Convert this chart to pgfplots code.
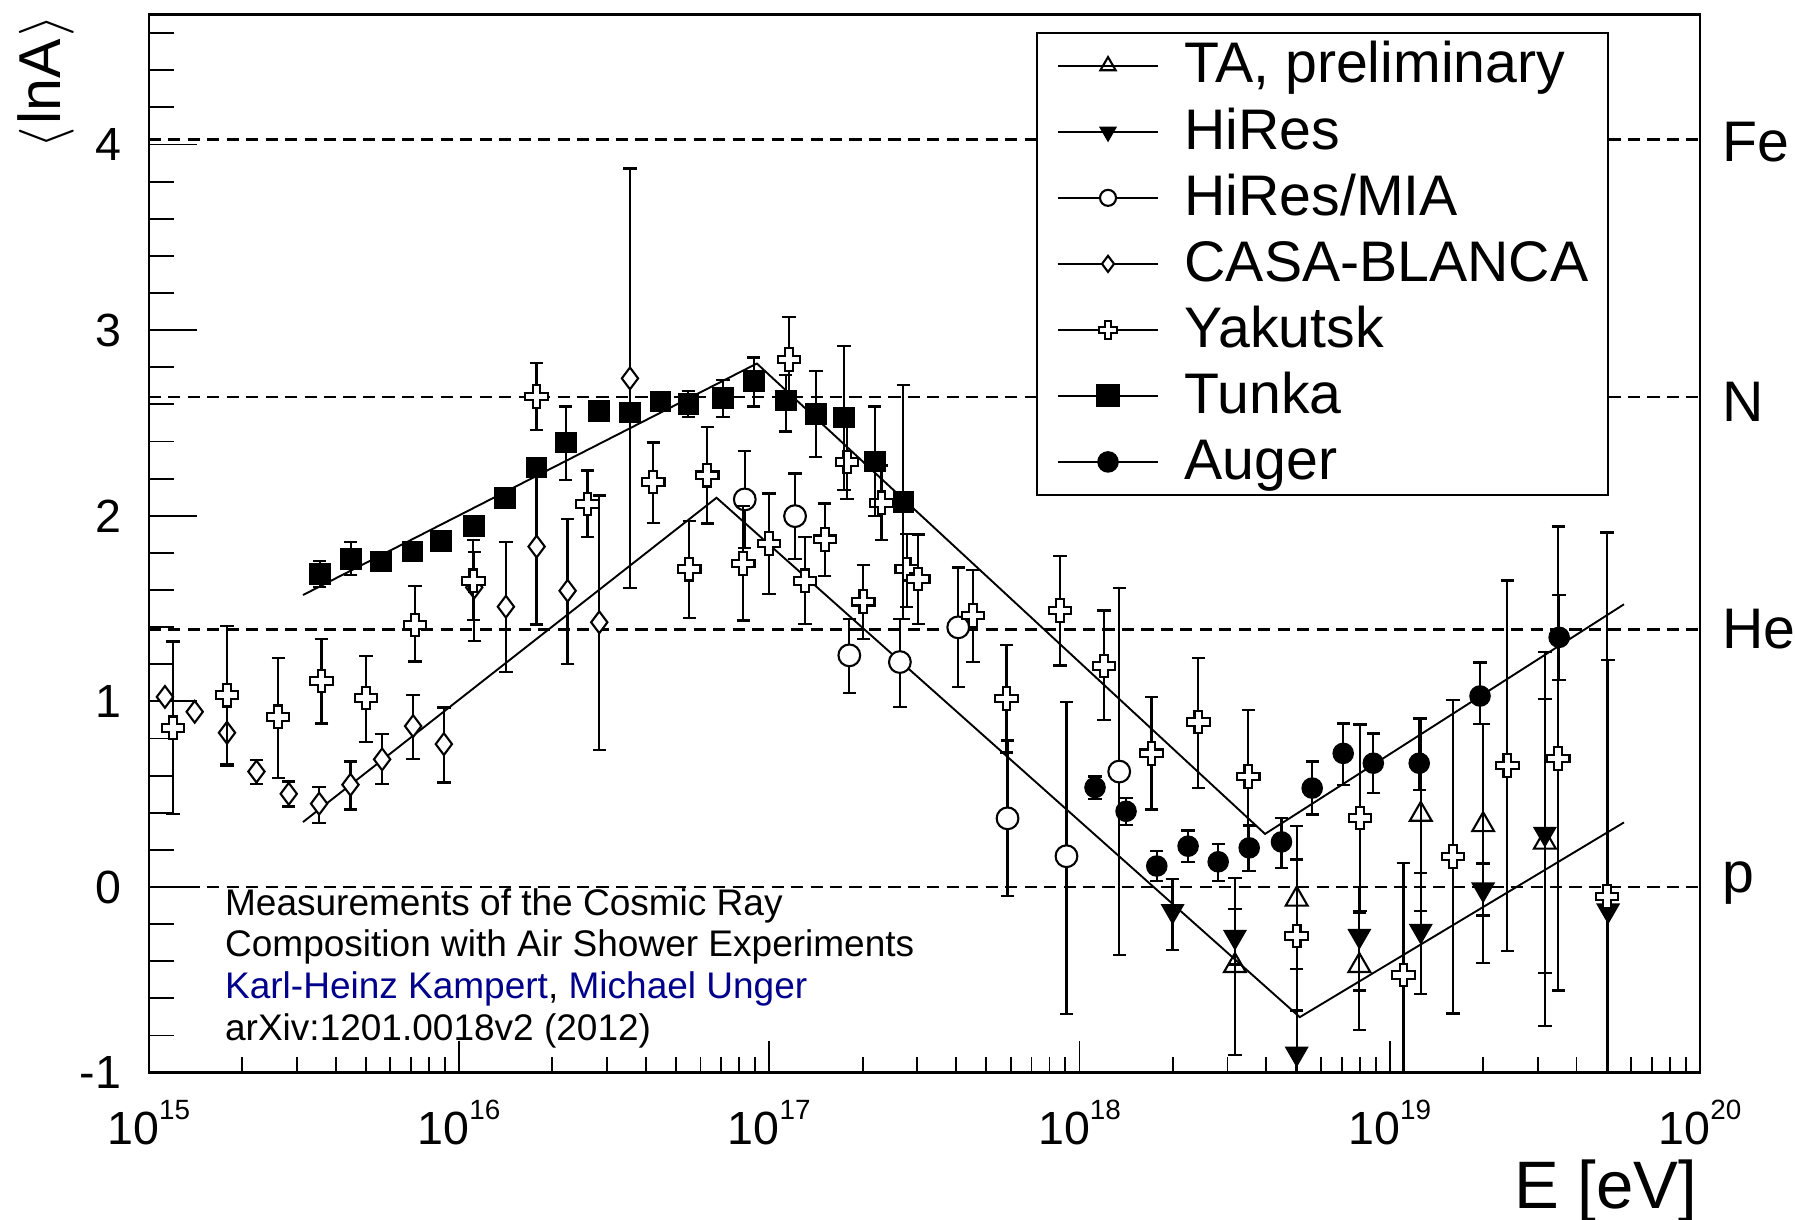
\documentclass[border=0pt]{standalone}
\usepackage{fontspec}
\setmainfont{Liberation Sans}
\usepackage{pgfplots}
\pgfplotsset{compat=1.18}
\usetikzlibrary{plotmarks}

\definecolor{authorblue}{RGB}{0,0,140}

% open cross marker (outline of a plus sign)
\pgfdeclareplotmark{ocross}{%
  \pgfpathmoveto{\pgfqpoint{-.34\pgfplotmarksize}{\pgfplotmarksize}}%
  \pgfpathlineto{\pgfqpoint{.34\pgfplotmarksize}{\pgfplotmarksize}}%
  \pgfpathlineto{\pgfqpoint{.34\pgfplotmarksize}{.34\pgfplotmarksize}}%
  \pgfpathlineto{\pgfqpoint{\pgfplotmarksize}{.34\pgfplotmarksize}}%
  \pgfpathlineto{\pgfqpoint{\pgfplotmarksize}{-.34\pgfplotmarksize}}%
  \pgfpathlineto{\pgfqpoint{.34\pgfplotmarksize}{-.34\pgfplotmarksize}}%
  \pgfpathlineto{\pgfqpoint{.34\pgfplotmarksize}{-\pgfplotmarksize}}%
  \pgfpathlineto{\pgfqpoint{-.34\pgfplotmarksize}{-\pgfplotmarksize}}%
  \pgfpathlineto{\pgfqpoint{-.34\pgfplotmarksize}{-.34\pgfplotmarksize}}%
  \pgfpathlineto{\pgfqpoint{-\pgfplotmarksize}{-.34\pgfplotmarksize}}%
  \pgfpathlineto{\pgfqpoint{-\pgfplotmarksize}{.34\pgfplotmarksize}}%
  \pgfpathlineto{\pgfqpoint{-.34\pgfplotmarksize}{.34\pgfplotmarksize}}%
  \pgfpathclose
  \pgfusepathqfillstroke}

\newcommand{\tp}[1]{10\raisebox{6.5pt}{\fontsize{7.3}{8}\selectfont #1}}

\tikzset{
  omark/.style={solid, fill=white, draw=black, line width=0.55pt},
  fmark/.style={solid, fill=black, draw=black, line width=0.45pt},
}

\pgfplotsset{
  dat/.style={only marks, black, line width=0.55pt,
    error bars/y dir=both, error bars/y explicit,
    error bars/error bar style={line width=0.6pt, black, solid},
    error bars/error mark options={rotate=90, black, mark size=1.75pt, line width=0.6pt}},
  legimg/.style={legend image code/.code={%
      \draw[black, line width=0.5pt] (0pt,0pt) -- (26.4pt,0pt);
      \draw[##1, mark size=#1] plot coordinates {(13.2pt,0pt)};}},
  refline/.style={forget plot, black, line width=0.7pt, dash pattern=on 3.2pt off 1.9pt},
  fitline/.style={forget plot, black, line width=0.5pt},
}

\begin{document}
\begin{tikzpicture}
\begin{axis}[
  name=ax,
  scale only axis, width=406.5pt, height=277.3pt,
  xmin=15, xmax=20, ymin=-1, ymax=4.70,
  xtick=\empty,
  ytick={-1,0,1,2,3,4}, yticklabels={-1,0,1,2,3,4},
  minor ytick={-0.8,-0.6,-0.4,-0.2,0.2,0.4,0.6,0.8,1.2,1.4,1.6,1.8,2.2,2.4,2.6,2.8,3.2,3.4,3.6,3.8,4.2,4.4,4.6},
  tick pos=left, tick align=inside,
  major tick length=12.5pt, minor tick length=6.5pt,
  every tick/.style={black, line width=0.5pt},
  axis line style={line width=0.65pt},
  yticklabel style={font=\fontsize{12.2}{14}\selectfont, inner sep=0pt, anchor=east, xshift=-7pt},
  clip mode=individual,
  legend cell align=left,
  legend style={at={(0.572,0.9838)}, anchor=north west,
    draw=black, line width=0.6pt, fill=white,
    inner xsep=5.1pt, inner ysep=0pt, row sep=0pt,
    font=\fontsize{15}{17}\selectfont,
    nodes={inner sep=0pt, text height=13.15pt, text depth=4.15pt},
    /tikz/every odd column/.style={column sep=6.6pt}},
]
% reference levels: Fe, N, He, p
\addplot[refline] coordinates {(15,4.025) (20,4.025)};
\addplot[refline] coordinates {(15,2.639) (20,2.639)};
\addplot[refline] coordinates {(15,1.386) (20,1.386)};
\addplot[refline] coordinates {(15,0) (20,0)};

% broken-line fits
\addplot[fitline] coordinates {(15.497,1.573) (16.96,2.82) (18.598,0.286) (19.755,1.523)};
\addplot[fitline] coordinates {(15.497,0.35) (16.83,2.097) (18.71,-0.701) (19.755,0.348)};

% TA, preliminary
\addplot[dat, mark=triangle, mark size=3.3pt, mark options={omark}, legimg=2.3pt]
coordinates {
(18.501,-0.424) += (0,0.474) -= (0,0.482)
(18.700,-0.066) += (0,0.214) -= (0,0.375)
(18.902,-0.424) += (0,0.286) -= (0,0.348)
(19.100,0.391) += (0,0.517) -= (0,0.52)
(19.301,0.335) += (0,0.545) -= (0,0.743)
(19.500,0.241) += (0,1.024) -= (0,0.988)
};
\addlegendentry{TA, preliminary}

% HiRes
\addplot[dat, mark=triangle*, mark size=3.2pt, mark options={fmark, rotate=180}, legimg=2.3pt]
coordinates {
(18.300,-0.129) += (0,0.174) -= (0,0.211)
(18.501,-0.268) += (0,0.15) -= (0,0.15)
(18.700,-0.897) += (0,0.232) -= (0,0.25)
(18.902,-0.263) += (0,0.263) -= (0,0.295)
(19.100,-0.236) += (0,0.313) -= (0,0.339)
(19.301,-0.013) += (0,0.14) -= (0,0.14)
(19.500,0.287) += (0,0.725) -= (0,0.75)
(19.704,-0.126) += (0,1.35) -= (0,1.3)
};
\addlegendentry{HiRes}

% HiRes/MIA
\addplot[dat, mark=*, mark size=2.85pt, mark options={omark}, legimg=2.1pt]
coordinates {
(16.921,2.088) += (0,0.26) -= (0,0.26)
(17.083,1.998) += (0,0.23) -= (0,0.23)
(17.258,1.248) += (0,0.196) -= (0,0.201)
(17.421,1.212) += (0,0.232) -= (0,0.241)
(17.609,1.399) += (0,0.322) -= (0,0.321)
(17.768,0.370) += (0,0.42) -= (0,0.42)
(17.958,0.166) += (0,0.831) -= (0,0.85)
(18.128,0.622) += (0,0.99) -= (0,0.99)
};
\addlegendentry{HiRes/MIA}

% CASA-BLANCA
\addplot[dat, mark=diamond*, mark size=2.85pt, mark options={omark}, legimg=2.1pt]
coordinates {
(15.252,0.831) += (0,0.18) -= (0,0.18)
(15.347,0.622) += (0,0.063) -= (0,0.067)
(15.451,0.502) += (0,0.066) -= (0,0.068)
(15.549,0.449) += (0,0.089) -= (0,0.104)
(15.650,0.551) += (0,0.125) -= (0,0.134)
(15.752,0.688) += (0,0.136) -= (0,0.134)
(15.852,0.867) += (0,0.166) -= (0,0.177)
(15.951,0.770) += (0,0.197) -= (0,0.207)
(16.049,1.614) += (0,0.19) -= (0,0.29)
(16.151,1.510) += (0,0.349) -= (0,0.352)
(16.250,1.834) += (0,0.42) -= (0,0.42)
(16.350,1.596) += (0,0.388) -= (0,0.393)
(16.452,1.426) += (0,0.683) -= (0,0.688)
(16.551,2.740) += (0,1.13) -= (0,1.13)
};
\addlegendentry{CASA-BLANCA}

% Yakutsk
\addplot[dat, mark=ocross, mark size=2.95pt, mark options={omark}, legimg=2.3pt]
coordinates {
(15.078,0.858) += (0,0.465) -= (0,0.463)
(15.252,1.033) += (0,0.375) -= (0,0.37)
(15.417,0.917) += (0,0.316) -= (0,0.331)
(15.557,1.110) += (0,0.227) -= (0,0.229)
(15.700,1.019) += (0,0.225) -= (0,0.236)
(15.858,1.412) += (0,0.211) -= (0,0.197)
(16.046,1.650) += (0,0.22) -= (0,0.21)
(16.250,2.642) += (0,0.18) -= (0,0.18)
(16.414,2.064) += (0,0.18) -= (0,0.18)
(16.626,2.181) += (0,0.214) -= (0,0.219)
(16.742,1.712) += (0,0.259) -= (0,0.263)
(16.800,2.218) += (0,0.259) -= (0,0.259)
(16.916,1.743) += (0,0.308) -= (0,0.308)
(16.999,1.850) += (0,0.27) -= (0,0.272)
(17.064,2.842) += (0,0.229) -= (0,0.229)
(17.115,1.650) += (0,0.237) -= (0,0.233)
(17.179,1.873) += (0,0.193) -= (0,0.197)
(17.251,2.290) += (0,0.2) -= (0,0.2)
(17.303,1.537) += (0,0.197) -= (0,0.2)
(17.362,2.070) += (0,0.2) -= (0,0.2)
(17.443,1.712) += (0,0.19) -= (0,0.205)
(17.480,1.659) += (0,0.24) -= (0,0.242)
(17.657,1.462) += (0,0.247) -= (0,0.25)
(17.765,1.015) += (0,0.29) -= (0,0.29)
(17.937,1.489) += (0,0.295) -= (0,0.295)
(18.079,1.190) += (0,0.299) -= (0,0.291)
(18.232,0.720) += (0,0.304) -= (0,0.303)
(18.383,0.890) += (0,0.343) -= (0,0.358)
(18.544,0.595) += (0,0.358) -= (0,0.509)
(18.700,-0.263) += (0,0.59) -= (0,0.40)
(18.904,0.372) += (0,0.504) -= (0,0.5)
(19.044,-0.474) += (0,0.602) -= (0,0.61)
(19.204,0.165) += (0,0.843) -= (0,0.846)
(19.379,0.654) += (0,0.997) -= (0,0.997)
(19.543,0.692) += (0,1.25) -= (0,1.25)
(19.700,-0.051) += (0,1.96) -= (0,1.96)
};
\addlegendentry{Yakutsk}

% Tunka
\addplot[dat, mark=square*, mark size=2.6pt, mark options={fmark}, legimg=2.8pt]
coordinates {
(15.551,1.685) += (0,0.07) -= (0,0.07)
(15.651,1.766) += (0,0.093) -= (0,0.086)
(15.749,1.753) += (0,0.04) -= (0,0.04)
(15.850,1.807) += (0,0.04) -= (0,0.04)
(15.941,1.864) += (0,0.04) -= (0,0.04)
(16.049,1.945) += (0,0.05) -= (0,0.05)
(16.148,2.097) += (0,0.04) -= (0,0.04)
(16.250,2.261) += (0,0.05) -= (0,0.05)
(16.344,2.395) += (0,0.193) -= (0,0.204)
(16.452,2.565) += (0,0.05) -= (0,0.05)
(16.551,2.556) += (0,0.05) -= (0,0.05)
(16.650,2.615) += (0,0.05) -= (0,0.05)
(16.739,2.602) += (0,0.07) -= (0,0.07)
(16.851,2.633) += (0,0.10) -= (0,0.10)
(16.950,2.726) += (0,0.127) -= (0,0.138)
(17.053,2.620) += (0,0.138) -= (0,0.166)
(17.150,2.547) += (0,0.234) -= (0,0.232)
(17.241,2.529) += (0,0.384) -= (0,0.39)
(17.340,2.293) += (0,0.295) -= (0,0.295)
(17.432,2.073) += (0,0.631) -= (0,0.63)
};
\addlegendentry{Tunka}

% Auger
\addplot[dat, mark=*, mark size=2.6pt, mark options={fmark}, legimg=2.6pt]
coordinates {
(18.050,0.536) += (0,0.06) -= (0,0.06)
(18.150,0.408) += (0,0.071) -= (0,0.072)
(18.249,0.113) += (0,0.08) -= (0,0.08)
(18.350,0.220) += (0,0.085) -= (0,0.085)
(18.447,0.136) += (0,0.096) -= (0,0.104)
(18.547,0.211) += (0,0.12) -= (0,0.125)
(18.651,0.243) += (0,0.129) -= (0,0.14)
(18.750,0.533) += (0,0.143) -= (0,0.143)
(18.850,0.720) += (0,0.161) -= (0,0.169)
(18.947,0.667) += (0,0.16) -= (0,0.161)
(19.095,0.667) += (0,0.241) -= (0,0.143)
(19.291,1.029) += (0,0.18) -= (0,0.149)
(19.546,1.345) += (0,0.227) -= (0,0.23)
};
\addlegendentry{Auger}

% two lowest-energy CASA-BLANCA points (no visible error)
\addplot[forget plot, only marks, mark=diamond*, mark size=2.85pt, mark options={omark}]
coordinates {(15.052,1.024) (15.148,0.944)};
\end{axis}

% energy axis ticks (shorter than the ordinate ticks)
\begin{axis}[
  scale only axis, width=406.5pt, height=277.3pt,
  xmin=15, xmax=20, ymin=-1, ymax=4.70,
  ytick=\empty,
  xtick={15,16,17,18,19,20},
  xticklabels={\tp{15},\tp{16},\tp{17},\tp{18},\tp{19},\tp{20}},
  minor xtick={15.30103,15.47712,15.60206,15.69897,15.77815,15.84510,15.90309,15.95424,
               16.30103,16.47712,16.60206,16.69897,16.77815,16.84510,16.90309,16.95424,
               17.30103,17.47712,17.60206,17.69897,17.77815,17.84510,17.90309,17.95424,
               18.30103,18.47712,18.60206,18.69897,18.77815,18.84510,18.90309,18.95424,
               19.30103,19.47712,19.60206,19.69897,19.77815,19.84510,19.90309,19.95424},
  tick pos=left, tick align=inside,
  major tick length=8.4pt, minor tick length=4.2pt,
  every tick/.style={black, line width=0.5pt},
  axis line style={line width=0.65pt},
  xticklabel style={font=\fontsize{12.2}{14}\selectfont, inner sep=0pt, anchor=base, yshift=-18.9pt},
]
\end{axis}

% axis titles
\node[rotate=90, anchor=east, inner sep=0pt, font=\fontsize{15.5}{18}\selectfont]
  at ([xshift=-27pt]ax.north west) {$\bigl\langle$\kern0.6pt lnA\kern0.6pt$\bigr\rangle$};
\node[anchor=base east, inner sep=0pt, font=\fontsize{17.6}{20}\selectfont]
  at ([xshift=-0.6pt, yshift=-35.5pt]ax.south east) {E [eV]};

% element labels on the right
\begin{scope}[every node/.style={anchor=base west, inner sep=0pt, font=\fontsize{15}{18}\selectfont}]
\node at ([xshift=5.7pt, yshift=238.9pt]ax.south east) {Fe};
\node at ([xshift=5.7pt, yshift=170.7pt]ax.south east) {N};
\node at ([xshift=5.7pt, yshift=111.15pt]ax.south east) {He};
\node at ([xshift=5.7pt, yshift=47.1pt]ax.south east) {p};
\end{scope}

% reference note
\begin{scope}[every node/.style={anchor=base west, inner sep=0pt, font=\fontsize{9.7}{11}\selectfont}]
\node at ([xshift=19.8pt, yshift=41.3pt]ax.south west) {Measurements of the Cosmic Ray};
\node at ([xshift=19.8pt, yshift=30.4pt]ax.south west) {Composition with Air Shower Experiments};
\node at ([xshift=19.8pt, yshift=19.5pt]ax.south west) {\textcolor{authorblue}{Karl-Heinz Kampert}, \textcolor{authorblue}{Michael Unger}};
\node at ([xshift=19.8pt, yshift=8.55pt]ax.south west) {arXiv:1201.0018v2 (2012)};
\end{scope}

\pgfresetboundingbox
\path[use as bounding box] ([xshift=-39pt, yshift=-38.4pt]ax.south west) rectangle ++(470.4pt,319.5pt);
\end{tikzpicture}
\end{document}
